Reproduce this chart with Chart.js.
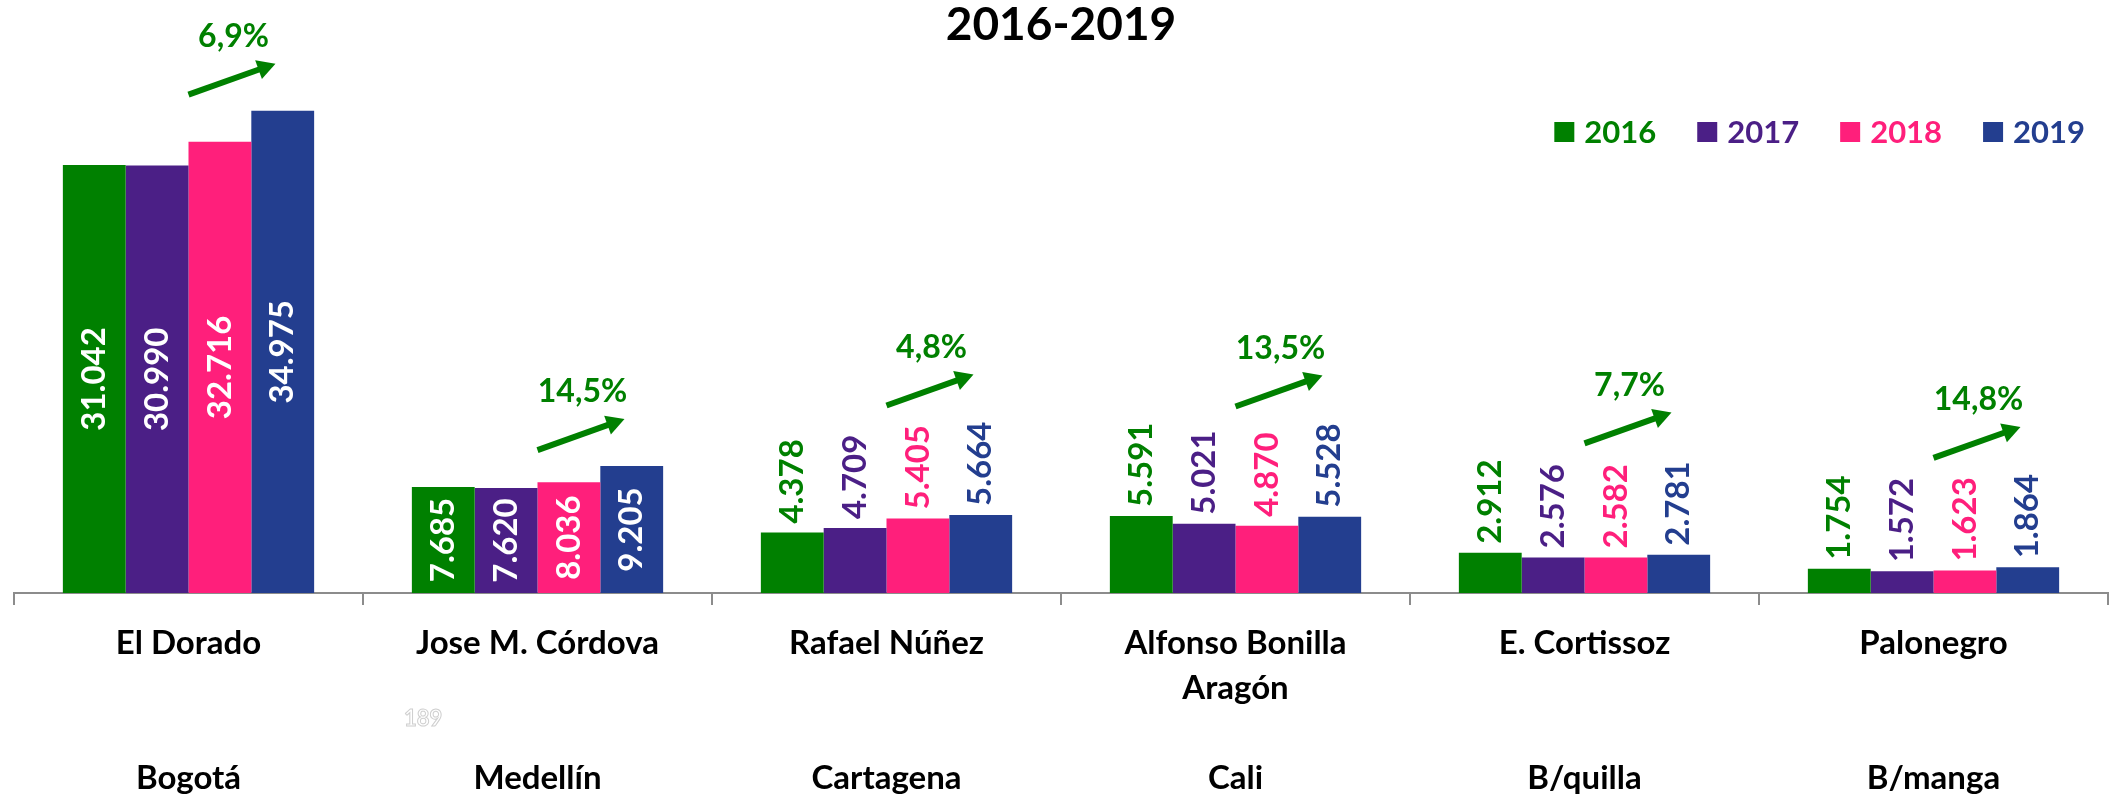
<!DOCTYPE html>
<html>
<head>
<meta charset="utf-8">
<script src="https://cdn.jsdelivr.net/npm/chart.js@4"></script>
<style>
html,body{margin:0;padding:0;background:#fff;}
#wrap{width:2113px;height:795px;}
</style>
</head>
<body>
<div id="wrap"><canvas id="c" width="2113" height="795"></canvas></div>
<script>
// ---- data ----
const titleText = "2016-2019";
const airportLine1 = ["El Dorado", "Jose M. Córdova", "Rafael Núñez", "Alfonso Bonilla", "E. Cortissoz", "Palonegro"];
const airportLine2 = ["", "", "", "Aragón", "", ""];
const cities = ["Bogotá", "Medellín", "Cartagena", "Cali", "B/quilla", "B/manga"];
const years = ["2016", "2017", "2018", "2019"];
const v2016 = [31042, 7685, 4378, 5591, 2912, 1754];
const v2017 = [30990, 7620, 4709, 5021, 2576, 1572];
const v2018 = [32716, 8036, 5405, 4870, 2582, 1623];
const v2019 = [34975, 9205, 5664, 5528, 2781, 1864];
const growth = ["6,9%", "14,5%", "4,8%", "13,5%", "7,7%", "14,8%"];

// ---- styles ----
const FONT = 'Lato, "Open Sans", "DejaVu Sans", sans-serif';
const colors = ["#008000", "#4B1F86", "#FF1F7B", "#233E8F"];
const GREEN = "#008000";
const INSIDE_MIN = 7000;

const fmt = v => String(v).replace(/\B(?=(\d{3})+(?!\d))/g, '.');

const labels = airportLine1.map((a, i) => [a, airportLine2[i], "", cities[i]]);
const series = [v2016, v2017, v2018, v2019];

const valueLabels = {
  id: 'valueLabels',
  afterDatasetsDraw(chart) {
    const ctx = chart.ctx;
    ctx.save();
    ctx.font = `bold 33px ${FONT}`;
    chart.data.datasets.forEach((ds, i) => {
      const meta = chart.getDatasetMeta(i);
      meta.data.forEach((bar, j) => {
        const v = ds.data[j];
        const txt = fmt(v);
        ctx.save();
        if (v > INSIDE_MIN) {
          ctx.translate(bar.x, (bar.y + bar.base) / 2);
          ctx.rotate(-Math.PI / 2);
          ctx.textAlign = 'center';
          ctx.fillStyle = '#ffffff';
        } else {
          ctx.translate(bar.x, bar.y - 9);
          ctx.rotate(-Math.PI / 2);
          ctx.textAlign = 'left';
          ctx.fillStyle = ds.backgroundColor;
        }
        ctx.textBaseline = 'middle';
        ctx.fillText(txt, 0, 0);
        ctx.restore();
      });
    });
    ctx.restore();
  }
};

const trendArrows = {
  id: 'trendArrows',
  afterDatasetsDraw(chart) {
    const ctx = chart.ctx, xs = chart.scales.x;
    ctx.save();
    growth.forEach((g, k) => {
      ctx.font = `bold 33px ${FONT}`;
      let top = Infinity;
      chart.data.datasets.forEach((ds, i) => {
        const bar = chart.getDatasetMeta(i).data[k];
        const v = ds.data[k];
        const t = v > INSIDE_MIN ? bar.y : bar.y - 9 - ctx.measureText(fmt(v)).width;
        top = Math.min(top, t);
      });
      const x0 = xs.getPixelForValue(k);
      const y0 = top - 16;
      const dx = 87, dy = -31;
      const len = Math.hypot(dx, dy);
      const ux = dx / len, uy = dy / len;
      const headLen = 18, halfW = 10;
      const tx = x0 + dx, ty = y0 + dy;
      const bx = tx - ux * headLen, by = ty - uy * headLen;
      ctx.strokeStyle = GREEN;
      ctx.fillStyle = GREEN;
      ctx.lineWidth = 6;
      ctx.lineCap = 'butt';
      ctx.beginPath();
      ctx.moveTo(x0, y0);
      ctx.lineTo(bx + ux * 2, by + uy * 2);
      ctx.stroke();
      ctx.beginPath();
      ctx.moveTo(tx, ty);
      ctx.lineTo(bx - uy * halfW, by + ux * halfW);
      ctx.lineTo(bx + uy * halfW, by - ux * halfW);
      ctx.closePath();
      ctx.fill();
      ctx.font = `bold 32px ${FONT}`;
      ctx.textAlign = 'center';
      ctx.textBaseline = 'middle';
      ctx.fillText(g, x0 + 45, y0 - 58);
    });
    ctx.restore();
  }
};

const customLegend = {
  id: 'customLegend',
  afterDraw(chart) {
    const ctx = chart.ctx;
    const area = chart.chartArea;
    ctx.save();
    ctx.font = `bold 31px ${FONT}`;
    ctx.textBaseline = 'middle';
    ctx.textAlign = 'left';
    const box = 20, gapText = 10, gapItem = 41;
    const items = chart.data.datasets.map(ds => ({ text: ds.label, color: ds.backgroundColor, w: ctx.measureText(ds.label).width }));
    let total = 0;
    items.forEach((it, i) => { total += box + gapText + it.w + (i < items.length - 1 ? gapItem : 0); });
    let x = area.right - 23 - total;
    const yc = 132;
    items.forEach(it => {
      ctx.fillStyle = it.color;
      ctx.fillRect(x, yc - box / 2, box, box);
      ctx.fillText(it.text, x + box + gapText, yc + 1);
      x += box + gapText + it.w + gapItem;
    });
    // faint stamp artifact
    ctx.font = `bold 22px ${FONT}`;
    ctx.strokeStyle = '#cfcfcf';
    ctx.lineWidth = 1;
    ctx.strokeText('189', 404, 719);
    ctx.restore();
  }
};

new Chart(document.getElementById('c'), {
  type: 'bar',
  data: {
    labels: labels,
    datasets: years.map((y, i) => ({
      label: y,
      data: series[i],
      backgroundColor: colors[i],
      borderWidth: 0,
      categoryPercentage: 0.72,
      barPercentage: 1.0
    }))
  },
  options: {
    responsive: false,
    animation: false,
    devicePixelRatio: 1,
    layout: { padding: { left: 14, right: 5, top: 0, bottom: 0 } },
    plugins: {
      legend: { display: false },
      tooltip: { enabled: false },
      title: {
        display: true,
        text: titleText,
        color: '#000',
        font: { family: FONT, size: 46, weight: 'bold', lineHeight: 1.0 },
        padding: { top: 2, bottom: 3 }
      }
    },
    scales: {
      x: {
        offset: true,
        grid: {
          display: true,
          drawOnChartArea: false,
          drawTicks: true,
          tickLength: 12,
          color: '#8c8c8c',
          lineWidth: 2
        },
        border: { display: true, color: '#8c8c8c', width: 2 },
        ticks: {
          color: '#000',
          autoSkip: false,
          maxRotation: 0,
          minRotation: 0,
          padding: 15.5,
          font: { family: FONT, size: 33, weight: 'bold', lineHeight: '45px' }
        },
        afterFit: (scale) => { scale.height = 202; }
      },
      y: {
        display: false,
        min: 0,
        max: 39300
      }
    }
  },
  plugins: [valueLabels, trendArrows, customLegend]
});
</script>
</body>
</html>
